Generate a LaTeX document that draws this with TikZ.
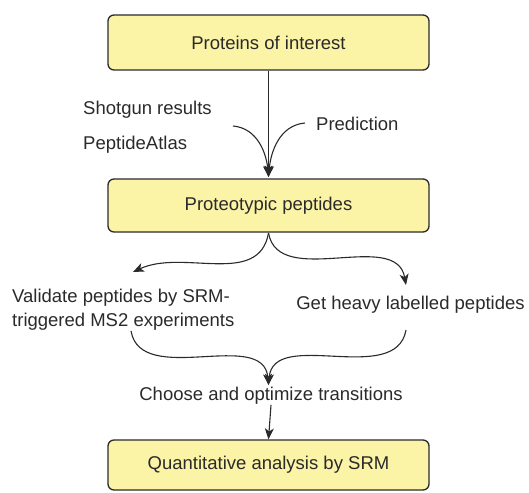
\documentclass[tikz,border=0pt]{standalone}
\usepackage{fontspec}
\setmainfont{Liberation Sans}
\usetikzlibrary{arrows.meta,positioning}
\definecolor{boxfill}{HTML}{FBF3A6}
\definecolor{inkgray}{HTML}{2A2A2A}
\tikzset{
  stepbox/.style={draw=inkgray, fill=boxfill, line width=1.3pt, rounded corners=6pt,
    minimum width=321pt, font=\fontsize{18.5}{24}\selectfont, text=inkgray},
  lbl/.style={font=\fontsize{18.5}{24}\selectfont, inner sep=0pt, text=inkgray},
  flow/.style={draw=inkgray, line width=1.1pt, -{Stealth[length=11pt,width=9pt,inset=3pt]}}
}
\begin{document}
\begin{tikzpicture}[x=1pt,y=-1pt]
\useasboundingbox (0,0) rectangle (529,492);
% boxes
\node[stepbox, minimum height=55pt] (proteins) at (268.5,42.5) {Proteins of interest};
\node[stepbox, minimum height=53pt] (proteo) at (268.5,205.5) {Proteotypic peptides};
\node[stepbox, minimum height=50pt] (quant) at (268.5,465) {Quantitative analysis by SRM};
% side labels
\node[lbl, anchor=west] (shotgun) at (83,110) {Shotgun results};
\node[lbl, anchor=west] (atlas) at (83,145) {PeptideAtlas};
\node[lbl, anchor=west] (predict) at (316,124) {Prediction};
\node[lbl, anchor=west, align=left] (validate) at (12,310) {Validate peptides by SRM-\\triggered MS2 experiments};
\node[lbl] (heavy) at (410.5,305) {Get heavy labelled peptides};
\node[lbl] (choose) at (271,396) {Choose and optimize transitions};
% connector ends
\coordinate (tip1) at (268.5,177);
\coordinate (src1) at (233,126);
\coordinate (src2) at (305,123);
\coordinate (split) at (268.5,233);
\coordinate (tipL) at (133,272);
\coordinate (tipR) at (406,285);
\coordinate (fromL) at (131,331);
\coordinate (fromR) at (406,330);
\coordinate (tip2) at (268.5,385);
% arrows
\draw[flow] (proteins.south) -- (tip1);
\draw[flow] (src1) to[out=-5,in=95] (tip1);
\draw[flow] (src2) to[out=185,in=85] (tip1);
\draw[flow] (split) to[out=-100,in=25] (tipL);
\draw[flow] (split) to[out=-80,in=100] (tipR);
\draw[flow] (fromL) to[out=-80,in=95] (tip2);
\draw[flow] (fromR) to[out=-100,in=85] (tip2);
\draw[flow] (choose.south) -- (quant.north);
\end{tikzpicture}
\end{document}
